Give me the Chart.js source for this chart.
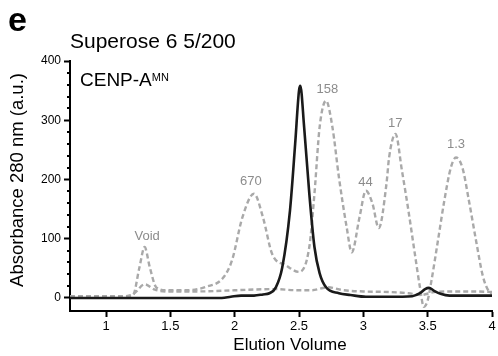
<!DOCTYPE html>
<html><head><meta charset="utf-8">
<script src="https://cdn.jsdelivr.net/npm/chart.js@4.4.1/dist/chart.umd.min.js"></script>
<style>html,body{margin:0;padding:0;background:#fff;}canvas{display:block;}</style>
</head><body>
<canvas id="c" width="498" height="356"></canvas>
<script>
// CENP-A MN elution (black)
const cenpX=[0.72,1.0,1.5,1.9,1.97,2.05,2.15,2.22,2.27,2.32,2.37,2.43,2.47,2.50,2.51,2.54,2.58,2.62,2.66,2.71,2.81,2.90,3.02,3.20,3.38,3.44,3.48,3.51,3.55,3.60,3.67,3.80,4.0];
const cenpY=[0,0,0,0,2,4,4,6,8,18,52,148,260,350,358,288,176,86,42,18,8,5,2,2,3,8,15,17,12,7,4,4,4];
// Gel filtration standards (grey dashed)
const stdX=[0.72,1.0,1.15,1.21,1.26,1.30,1.34,1.39,1.47,1.63,1.78,1.91,1.98,2.06,2.15,2.22,2.29,2.40,2.50,2.58,2.62,2.66,2.71,2.76,2.81,2.87,2.91,2.97,3.02,3.07,3.12,3.18,3.20,3.25,3.30,3.35,3.40,3.44,3.47,3.50,3.53,3.58,3.63,3.68,3.72,3.77,3.82,3.88,3.93,3.98,4.0];
const stdY=[3,3,3,5,52,86,52,18,13,13,19,34,64,136,176,136,75,55,44,86,176,288,333,288,204,120,77,136,181,160,118,193,237,277,215,148,75,18,-15,-4,30,97,165,220,237,220,165,92,36,10,8];
// Buffer / baseline run (grey dashed)
const baseX=[0.72,1.0,1.15,1.22,1.30,1.38,1.47,1.70,2.00,2.30,2.50,2.60,2.72,2.85,3.00,3.20,3.35,3.45,3.55,3.70,3.85,4.0];
const baseY=[3,3,3,8,23,14,11,11,13,15,13,13,18,13,11,10,8,5,10,11,11,10];
// Peak labels (standards, kDa)
const peakLabels=['Void','670','158','44','17','1.3'];
const peakLabelX=[1.32,2.125,2.72,3.016,3.248,3.72];
const peakLabelY=[104,197,352,195,294,259];
// Axis ticks
const xTicks=[1,1.5,2,2.5,3,3.5,4];
const yTicks=[0,100,200,300,400];
const yMinorTicks=[20,40,60,80,120,140,160,180,220,240,260,280,320,340,360,380];

const FONT='"Liberation Sans", Arial, Helvetica, sans-serif';
const pts=(xs,ys)=>xs.map((x,i)=>({x:x,y:ys[i]}));

const annot={
  id:'annot',
  afterDraw(chart){
    const {ctx,scales:{x,y}}=chart;
    ctx.save();
    // minor y ticks
    ctx.strokeStyle='#000';ctx.lineWidth=2;
    const L=chart.chartArea.left;
    yMinorTicks.forEach(v=>{const py=Math.round(y.getPixelForValue(v));ctx.beginPath();ctx.moveTo(L-3,py);ctx.lineTo(L,py);ctx.stroke();});
    // peak labels
    ctx.fillStyle='#8c8c8c';ctx.font='13px '+FONT;ctx.textAlign='center';ctx.textBaseline='middle';
    peakLabels.forEach((t,i)=>ctx.fillText(t,x.getPixelForValue(peakLabelX[i]),y.getPixelForValue(peakLabelY[i])));
    // axis titles
    ctx.fillStyle='#000';
    ctx.font='17px '+FONT;ctx.textAlign='center';ctx.textBaseline='alphabetic';
    ctx.fillText('Elution Volume',290,350);
    ctx.save();ctx.translate(18,180);ctx.rotate(-Math.PI/2);
    ctx.font='18.5px '+FONT;ctx.textBaseline='middle';ctx.fillText('Absorbance 280 nm (a.u.)',0,0);
    ctx.restore();
    // panel letter, title, sample
    ctx.textAlign='left';ctx.textBaseline='alphabetic';
    ctx.font='bold 34px '+FONT;ctx.fillText('e',8,31);
    ctx.font='21px '+FONT;ctx.fillText('Superose 6 5/200',70,48);
    ctx.font='19px '+FONT;ctx.fillText('CENP-A',80,86);
    const w=ctx.measureText('CENP-A').width;
    ctx.font='11px '+FONT;ctx.fillText('MN',80+w,81);
    ctx.restore();
  }
};

new Chart(document.getElementById('c'),{
  type:'line',
  data:{datasets:[
    {label:'CENP-A MN',data:pts(cenpX,cenpY),borderColor:'#1a1a1a',borderWidth:2.6,pointRadius:0,cubicInterpolationMode:'monotone',fill:false},
    {label:'Standards',data:pts(stdX,stdY),borderColor:'#a9a9a9',borderWidth:2.4,borderDash:[5,3],pointRadius:0,cubicInterpolationMode:'monotone',fill:false},
    {label:'Baseline',data:pts(baseX,baseY),borderColor:'#a9a9a9',borderWidth:2.4,borderDash:[5,3],pointRadius:0,cubicInterpolationMode:'monotone',fill:false}
  ]},
  options:{
    responsive:false,animation:false,
    layout:{padding:{left:0,top:61,right:6,bottom:0}},
    plugins:{legend:{display:false},tooltip:{enabled:false}},
    scales:{
      x:{type:'linear',min:0.72,max:4,
        afterBuildTicks:s=>{s.ticks=xTicks.map(v=>({value:v}));},
        afterFit:s=>{s.height=45;},
        border:{display:true,color:'#000',width:2},
        grid:{display:true,drawOnChartArea:false,drawTicks:true,tickLength:6,tickColor:'#000',tickWidth:2},
        ticks:{color:'#000',font:{family:FONT,size:13},padding:2,maxRotation:0,callback:v=>String(v)},
        title:{display:false,text:'Elution Volume'}
      },
      y:{type:'linear',min:-22,max:400,
        afterBuildTicks:s=>{s.ticks=yTicks.map(v=>({value:v}));},
        afterFit:s=>{s.width=70;},
        border:{display:true,color:'#000',width:2},
        grid:{display:true,drawOnChartArea:false,drawTicks:true,tickLength:6,tickColor:'#000',tickWidth:2},
        ticks:{color:'#000',font:{family:FONT,size:12},padding:3,callback:v=>String(v)},
        title:{display:false,text:'Absorbance 280 nm (a.u.)'}
      }
    }
  },
  plugins:[annot]
});
</script>
</body></html>
